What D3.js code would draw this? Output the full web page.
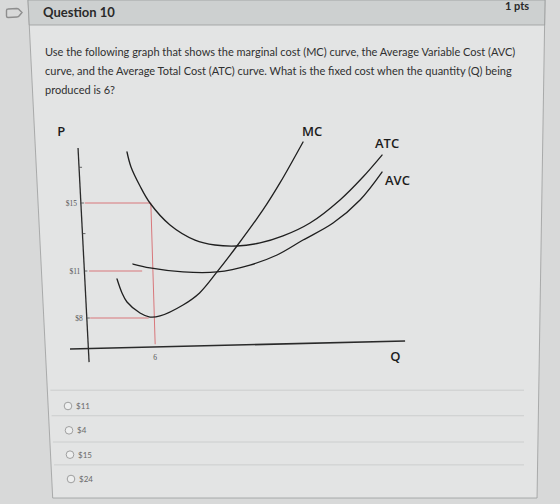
<!DOCTYPE html>
<meta charset="utf-8">
<style>
body { margin: 0; background: #d8d9d9; }
svg { display: block; }
.qtext { font: 11px Lato, sans-serif; fill: #303030; }
.curve { fill: none; stroke: #1f1f1f; stroke-width: 1.3; stroke-linecap: round; }
.guide { fill: none; stroke: #d8777b; stroke-width: 1; }
.lab { font: 600 13px "Open Sans", sans-serif; fill: #1c1c1c; }
.tick { font: 7.5px "Liberation Serif", serif; fill: #555; }
.opt { font: 8px Lato, sans-serif; fill: #6a6a6a; }
</style>
<svg width="560" height="504"></svg>
<script src="https://cdn.jsdelivr.net/npm/d3@7"></script>
<script>

var questionLines = [
  "Use the following graph that shows the marginal cost (MC) curve, the Average Variable Cost (AVC)",
  "curve, and the Average Total Cost (ATC) curve. What is the fixed cost when the quantity (Q) being",
  "produced is 6?"
];
var options = ["$11", "$4", "$15", "$24"];

var priceTicks = [8, 11, 15];
var priceMinor = [13.2, 17.1];
var qTicks = [6];

// hand drawn curves as (Q, P)
var mc = [[2.68,10.49],[3.14,9.6],[3.6,9.02],[4.8,8.32],[5.72,8.06],[6.65,8.13],[8.77,8.83],
          [10.3,9.6],[11.91,10.94],[13.75,12.47],[16.15,14.59],[17.72,16.18],[19.85,18.59]];
var atc = [[3.6,18.0],[3.97,17.12],[4.8,16.0],[5.72,15.0],[7.57,13.71],[9.88,12.82],[11.72,12.53],
           [13.75,12.47],[15.88,12.65],[18.0,13.06],[20.49,13.82],[23.26,15.18],[25.38,16.53],[27.14,17.82]];
var avc = [[4.15,11.41],[5.72,11.18],[8.77,10.94],[11.91,10.94],[14.95,11.35],[17.45,11.94],
           [19.85,12.82],[22.62,13.82],[25.11,15.18],[27.14,16.82]];

// red guide lines
var guides = [
  [[-0.3,15],[5.8,15]],
  [[5.8,15],[6.2,0.5]],
  [[0.1,11],[5.0,11]],
  [[0.2,8],[5.6,8]]
];

// the axes are drawn by hand, slightly tilted
var yAxisLine = [[0.1,-4.6],[-0.92,18.24]];
var xAxisLine = [[-1.66,-0.86],[29.27,1.43]];

var svg = d3.select("svg"),
    width = +svg.attr("width"),
    height = +svg.attr("height");

// page frame (photo of a screen, so the borders lean a little)
function leftX(y) { return 28 + 25 * y / 504; }
function rightX(y) { return 545 - 8 * y / 500; }

svg.append("polygon")
  .attr("points", [[leftX(0),0],[rightX(0),0],[rightX(498),498],[leftX(498),498]].join(" "))
  .attr("fill", "#e3e4e4")
  .attr("stroke", "#9a9c9c")
  .attr("stroke-width", 0.8);

svg.append("polygon")
  .attr("points", [[leftX(0),0],[rightX(0),0],[rightX(25),25],[leftX(25),25]].join(" "))
  .attr("fill", "#cdd0d0")
  .attr("stroke", "#9a9c9c")
  .attr("stroke-width", 0.8);

svg.append("path")
  .attr("d", "M8,9 L17,8.5 Q18.5,8.5 19.5,10 L22,12.5 L19.5,15.5 Q18.5,17 17,17 L8,17.5 Q6.5,17.5 6.5,16 L6.5,10.5 Q6.5,9 8,9 Z")
  .attr("fill", "none")
  .attr("stroke", "#8e8e8e")
  .attr("stroke-width", 1.4);

svg.append("text")
  .attr("x", 43).attr("y", 17)
  .style("font", "bold 13px Lato, sans-serif")
  .attr("fill", "#2a2a2a")
  .text("Question 10");

svg.append("text")
  .attr("x", 505).attr("y", 10)
  .style("font", "bold 11px Lato, sans-serif")
  .attr("fill", "#2a2a2a")
  .text("1 pts");

svg.selectAll(".qtext")
  .data(questionLines)
  .enter().append("text")
    .attr("class", "qtext")
    .attr("x", 45)
    .attr("y", function(d, i) { return 56 + i * 19; })
    .text(function(d) { return d; });

// chart
var x = d3.scaleLinear().domain([0, 30]).range([88, 413]);
var y = d3.scaleLinear().domain([0, 8, 11, 15, 20]).range([346, 318, 271, 203, 118]);

var line = d3.line()
  .x(function(d) { return x(d[0]); })
  .y(function(d) { return y(d[1]); });

var smooth = d3.line()
  .x(function(d) { return x(d[0]); })
  .y(function(d) { return y(d[1]); })
  .curve(d3.curveCatmullRom.alpha(0.5));

var chart = svg.append("g");

chart.selectAll(".guide")
  .data(guides)
  .enter().append("path")
    .attr("class", "guide")
    .attr("d", line);

chart.append("path")
  .attr("d", line(yAxisLine))
  .attr("stroke", "#2a2a2a").attr("stroke-width", 1.3).attr("fill", "none");

chart.append("path")
  .attr("d", line(xAxisLine))
  .attr("stroke", "#2a2a2a").attr("stroke-width", 1.6).attr("fill", "none");

// x position of the tilted y axis at a price
function axisAt(p) {
  var a = yAxisLine[0], b = yAxisLine[1];
  var t = (y(p) - y(a[1])) / (y(b[1]) - y(a[1]));
  return x(a[0]) + t * (x(b[0]) - x(a[0]));
}

chart.selectAll(".ytick")
  .data(priceTicks.concat(priceMinor))
  .enter().append("line")
    .attr("x1", function(d) { return axisAt(d); })
    .attr("x2", function(d) { return axisAt(d) + 3; })
    .attr("y1", function(d) { return y(d); })
    .attr("y2", function(d) { return y(d); })
    .attr("stroke", "#444").attr("stroke-width", 0.8);

chart.selectAll(".tick")
  .data(priceTicks)
  .enter().append("text")
    .attr("class", "tick")
    .attr("x", function(d) { return axisAt(d) - 4; })
    .attr("y", function(d) { return y(d) + 2.5; })
    .attr("text-anchor", "end")
    .text(function(d) { return "$" + d; });

chart.selectAll(".qtick")
  .data(qTicks)
  .enter().append("text")
    .attr("class", "tick")
    .attr("x", function(d) { return x(d) + 2; })
    .attr("y", y(0) + 14)
    .attr("text-anchor", "middle")
    .text(function(d) { return d; });

[mc, atc, avc].forEach(function(c) {
  chart.append("path").attr("class", "curve").attr("d", smooth(c));
});

function endOf(c) { var e = c[c.length - 1]; return [x(e[0]), y(e[1])]; }

var mcEnd = endOf(mc), atcEnd = endOf(atc), avcEnd = endOf(avc);

chart.append("text").attr("class", "lab")
  .attr("x", mcEnd[0] - 1).attr("y", mcEnd[1] - 6).text("MC");
chart.append("text").attr("class", "lab")
  .attr("x", atcEnd[0] - 7).attr("y", atcEnd[1] - 7).text("ATC");
chart.append("text").attr("class", "lab")
  .attr("x", avcEnd[0] + 3).attr("y", avcEnd[1] + 13).text("AVC");
chart.append("text").attr("class", "lab")
  .attr("x", axisAt(19) - 20).attr("y", y(19) + 1).text("P");
chart.append("text").attr("class", "lab")
  .attr("x", x(27.9)).attr("y", y(0) + 15).text("Q");

// answer options
var optY = d3.scaleLinear().domain([0, 3]).range([406, 479]);

svg.selectAll(".sep")
  .data([-0.65, 0.4, 1.48, 2.42])
  .enter().append("line")
    .attr("x1", function(d) { return leftX(optY(d)) + 3; })
    .attr("x2", 524)
    .attr("y1", function(d) { return optY(d); })
    .attr("y2", function(d) { return optY(d); })
    .attr("stroke", "#c6c8c8").attr("stroke-width", 0.8);

var opt = svg.selectAll(".optg")
  .data(options)
  .enter().append("g")
    .attr("transform", function(d, i) { return "translate(" + (68 + i) + "," + optY(i) + ")"; });

opt.append("circle")
  .attr("r", 3.8)
  .attr("fill", "#eeefef")
  .attr("stroke", "#8c8c8c")
  .attr("stroke-width", 0.8);

opt.append("text")
  .attr("class", "opt")
  .attr("x", 8).attr("y", 3)
  .text(function(d) { return d; });

</script>
